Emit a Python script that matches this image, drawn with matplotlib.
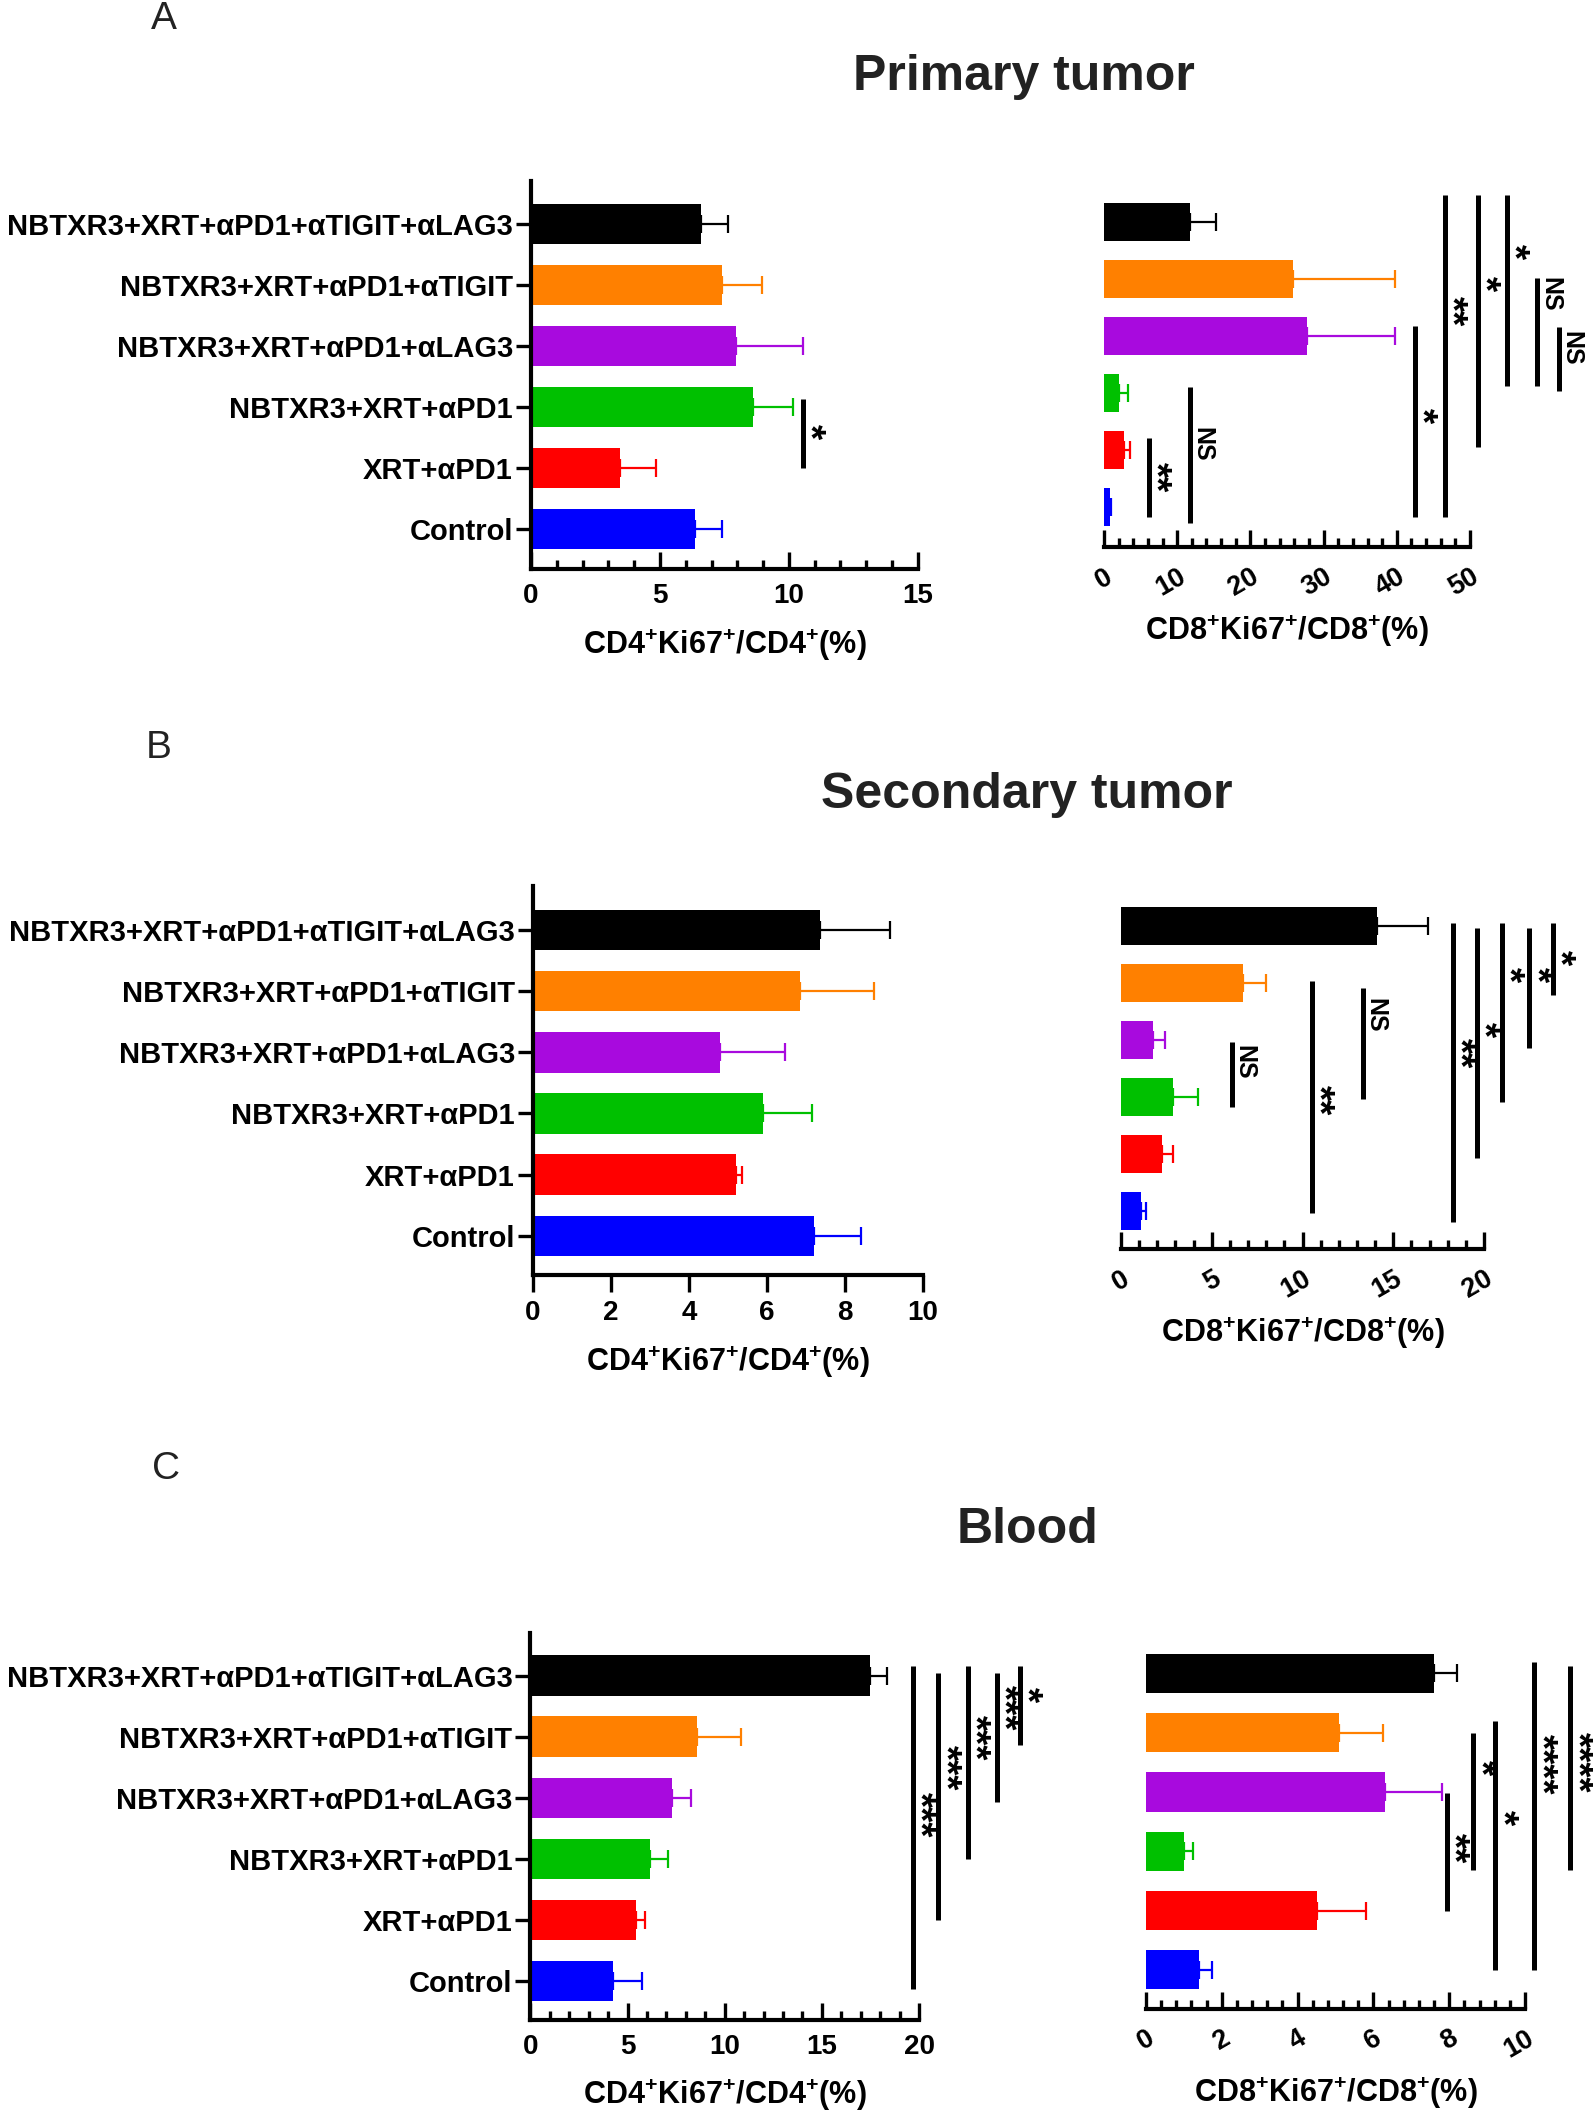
import matplotlib
matplotlib.use("Agg")
import matplotlib.pyplot as plt
from matplotlib.ticker import MultipleLocator

plt.rcParams['font.family'] = ['Liberation Sans', 'DejaVu Sans']
plt.rcParams['mathtext.fontset'] = 'custom'
plt.rcParams['mathtext.rm'] = 'Liberation Sans:bold'
plt.rcParams['mathtext.bf'] = 'Liberation Sans:bold'

groups = ["NBTXR3+XRT+αPD1+αTIGIT+αLAG3", "NBTXR3+XRT+αPD1+αTIGIT",
          "NBTXR3+XRT+αPD1+αLAG3", "NBTXR3+XRT+αPD1", "XRT+αPD1", "Control"]
colors = ["#000000", "#ff8000", "#a80ade", "#00c000", "#ff0000", "#0000ff"]

# means and upper error (SEM), top to bottom
primary_cd4 = [6.6, 7.4, 7.95, 8.6, 3.45, 6.35]
primary_cd4_err = [1.05, 1.55, 2.6, 1.55, 1.4, 1.05]
primary_cd8 = [11.8, 25.8, 27.7, 2.0, 2.8, 0.8]
primary_cd8_err = [3.5, 13.9, 12.1, 1.3, 0.7, 0.2]
secondary_cd4 = [7.35, 6.85, 4.8, 5.9, 5.2, 7.2]
secondary_cd4_err = [1.8, 1.9, 1.65, 1.25, 0.15, 1.2]
secondary_cd8 = [14.1, 6.7, 1.75, 2.85, 2.25, 1.1]
secondary_cd8_err = [2.8, 1.3, 0.65, 1.4, 0.6, 0.3]
blood_cd4 = [17.5, 8.55, 7.3, 6.15, 5.45, 4.25]
blood_cd4_err = [0.85, 2.3, 0.95, 0.95, 0.45, 1.5]
blood_cd8 = [7.6, 5.1, 6.3, 1.0, 4.5, 1.4]
blood_cd8_err = [0.6, 1.15, 1.5, 0.25, 1.3, 0.35]

# significance: (x, from group, to group, label, label position)
primary_cd4_sig = [(10.55, 2.87, 4.0, "*", 3.41)]
primary_cd8_sig = [(6.15, 3.78, 5.17, "**", 4.48), (11.7, 2.89, 5.28, "NS", 3.89),
                   (42.5, 1.83, 5.17, "*", 3.40), (46.6, -0.47, 5.17, "**", 1.57),
                   (51.1, -0.47, 3.95, "*", 1.08), (55.0, -0.47, 2.87, "*", 0.52),
                   (59.2, 0.99, 2.87, "NS", 1.27), (62.2, 1.85, 2.96, "NS", 2.21)]
secondary_cd4_sig = []
secondary_cd8_sig = [(6.13, 2.03, 3.18, "NS", 2.40), (10.5, 0.96, 5.04, "**", 3.05),
                     (13.35, 1.08, 3.03, "NS", 1.56), (18.3, -0.05, 5.2, "**", 2.23),
                     (19.6, 0.04, 4.07, "*", 1.82), (21.0, -0.05, 3.09, "*", 0.86),
                     (22.5, 0.04, 2.14, "*", 0.86), (23.8, -0.05, 1.21, "*", 0.56)]
blood_cd4_sig = [(19.7, -0.15, 5.13, "***", 2.28), (21.0, -0.05, 4.0, "***", 1.51),
                 (22.5, -0.15, 3.0, "***", 1.02), (24.0, -0.05, 2.07, "***", 0.53),
                 (25.2, -0.15, 1.13, "*", 0.31)]
blood_cd8_sig = [(7.94, 2.01, 4.0, "**", 2.94), (8.64, 1.01, 3.31, "*", 1.59),
                 (9.22, 0.81, 5.0, "*", 2.43), (10.25, -0.19, 5.0, "****", 1.53),
                 (11.2, -0.12, 3.31, "****", 1.5)]

cd4_label = r"CD4$^{\mathbf{+}}$Ki67$^{\mathbf{+}}$/CD4$^{\mathbf{+}}$(%)"
cd8_label = r"CD8$^{\mathbf{+}}$Ki67$^{\mathbf{+}}$/CD8$^{\mathbf{+}}$(%)"

fig = plt.figure(figsize=(15.93, 21.14), dpi=100)


def panel(rect, vals, errs, xmax, major, minor, sig, left, xlabel, ylim, tickdir='in'):
    ax = fig.add_axes(rect)
    pos = list(range(len(groups)))
    ax.barh(pos, vals, height=0.66, color=colors, zorder=2)
    for i in pos:
        ax.errorbar(vals[i], i, xerr=[[0], [errs[i]]], color=colors[i], capsize=6.5,
                    elinewidth=1.6, capthick=1.6, zorder=1)
    ax.set_xlim(0, xmax)
    ax.set_ylim(*ylim)
    ax.spines['top'].set_visible(False)
    ax.spines['right'].set_visible(False)
    ax.spines['bottom'].set_linewidth(3)
    ax.xaxis.set_major_locator(MultipleLocator(major))
    if minor:
        ax.xaxis.set_minor_locator(MultipleLocator(minor))
    ax.tick_params(axis='x', which='major', direction=tickdir, length=12, width=2.4)
    ax.tick_params(axis='x', which='minor', direction=tickdir, length=6.5, width=2.4)
    if left:
        ax.spines['left'].set_linewidth(3)
        ax.set_yticks(pos)
        ax.set_yticklabels(groups, fontsize=21, fontweight='bold')
        ax.tick_params(axis='y', direction='out', length=11, width=2.4, pad=2)
        ax.tick_params(axis='x', labelsize=20, pad=10 if tickdir == 'in' else 6)
        for t in ax.get_xticklabels():
            t.set_fontweight('bold')
        ax.set_xlabel(xlabel, fontsize=22, fontweight='bold', labelpad=13)
    else:
        ax.spines['left'].set_visible(False)
        ax.set_yticks([])
        ax.tick_params(axis='x', labelsize=19.5, pad=12)
        for t in ax.get_xticklabels():
            t.set_fontweight('bold')
            t.set_rotation(30)
            t.set_ha('right')
            t.set_va('top')
            t.set_rotation_mode('anchor')
        ax.set_xlabel(xlabel, fontsize=22, fontweight='bold', labelpad=9)
    for x, y0, y1, lab, ly in sig:
        ax.plot([x, x], [y0, y1], color='black', lw=3.6, clip_on=False,
                solid_capstyle='butt')
        if lab.startswith('*'):
            size, off = 28, 4
        else:
            size, off = 18, 9
        ax.annotate(lab, (x, ly), xytext=(off, 0), textcoords='offset points',
                    rotation=-90, ha='center', va='center', fontsize=size,
                    fontweight='bold', annotation_clip=False)
    return ax


panel([0.3333, 0.7308, 0.2429, 0.1835], primary_cd4, primary_cd4_err, 15, 5, 1,
      primary_cd4_sig, True, cd4_label, (5.66, -0.70))
panel([0.6930, 0.7412, 0.2298, 0.1708], primary_cd8, primary_cd8_err, 50, 10, 2,
      primary_cd8_sig, False, cd8_label, (5.70, -0.63))
panel([0.3346, 0.3969, 0.2448, 0.1840], secondary_cd4, secondary_cd4_err, 10, 2, None,
      secondary_cd4_sig, True, cd4_label, (5.64, -0.72), tickdir='out')
panel([0.7037, 0.4092, 0.2279, 0.1689], secondary_cd8, secondary_cd8_err, 20, 5, 1,
      secondary_cd8_sig, False, cd8_label, (5.67, -0.60))
panel([0.3330, 0.0445, 0.2439, 0.1831], blood_cd4, blood_cd4_err, 20, 5, 1,
      blood_cd4_sig, True, cd4_label, (5.64, -0.70))
panel([0.7194, 0.0497, 0.2379, 0.1755], blood_cd8, blood_cd8_err, 10, 2, 0.4,
      blood_cd8_sig, False, cd8_label, (5.66, -0.60))

fig.text(1024 / 1593, 1 - 77 / 2114, "Primary tumor", fontsize=36, fontweight='bold',
         ha='center', va='center', color='#222222')
fig.text(1027 / 1593, 1 - 795 / 2114, "Secondary tumor", fontsize=36, fontweight='bold',
         ha='center', va='center', color='#222222')
fig.text(1028 / 1593, 1 - 1530 / 2114, "Blood", fontsize=36, fontweight='bold',
         ha='center', va='center', color='#222222')
fig.text(164 / 1593, 1 - 19 / 2114, "A", fontsize=28, ha='center', va='center', color='#222222')
fig.text(159 / 1593, 1 - 748 / 2114, "B", fontsize=28, ha='center', va='center', color='#222222')
fig.text(166 / 1593, 1 - 1469 / 2114, "C", fontsize=28, ha='center', va='center', color='#222222')

fig.savefig("out.png", dpi=100)
